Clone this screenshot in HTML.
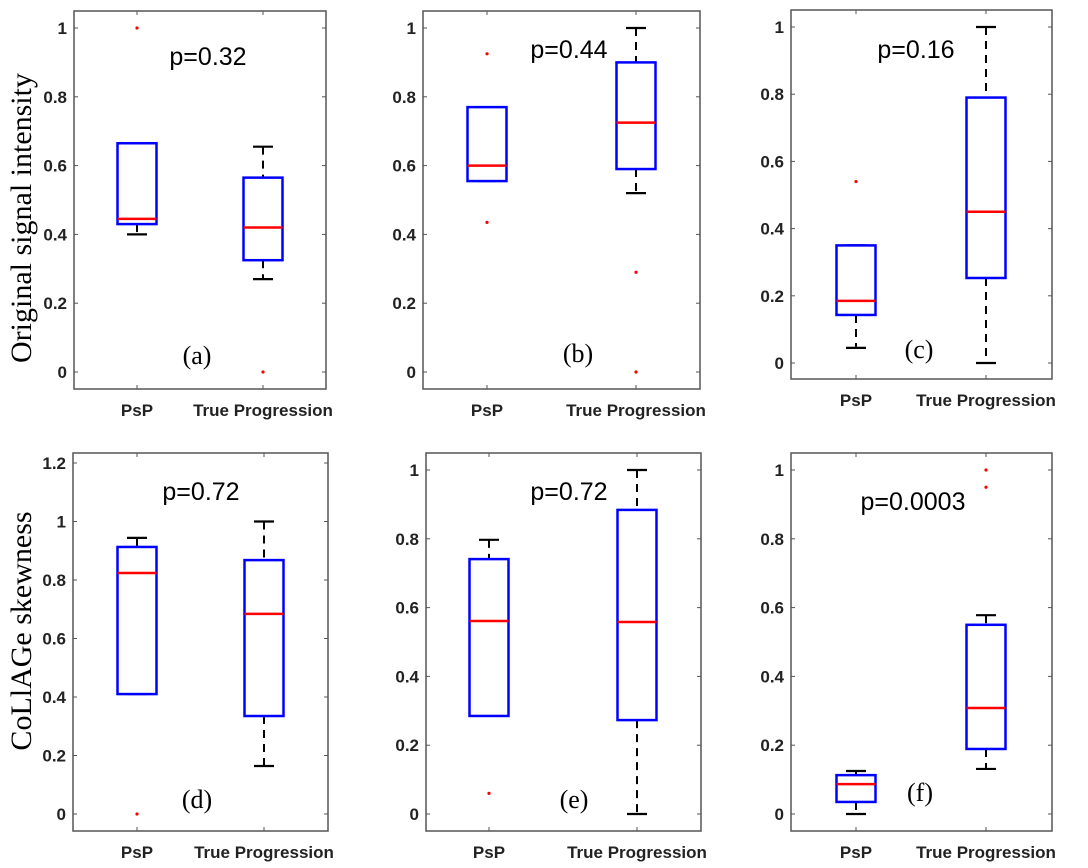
<!DOCTYPE html>
<html><head><meta charset="utf-8"><style>
body{margin:0;background:#fff;width:1088px;height:868px;overflow:hidden}
svg{display:block}
.tk{font-family:"Liberation Sans",sans-serif;font-weight:bold;font-size:17px;fill:#222}
.cat{font-family:"Liberation Sans",sans-serif;font-weight:bold;font-size:17px;fill:#222}
.pv{font-family:"Liberation Sans",sans-serif;font-size:25px;fill:#000}
.lt{font-family:"Liberation Serif",serif;font-size:26px;fill:#000}
.yt{font-family:"Liberation Serif",serif;font-size:30px;fill:#000}
</style></head><body>
<svg id="fig" width="1088" height="868" xmlns="http://www.w3.org/2000/svg">
<text class="yt" transform="translate(31,218) rotate(-90)" text-anchor="middle">Original signal intensity</text>
<text class="yt" transform="translate(31,631) rotate(-90)" text-anchor="middle">CoLlAGe skewness</text>
</svg>
<script>
const categories = ["PsP", "True Progression"];
const panelLabels = ["(a)", "(b)", "(c)", "(d)", "(e)", "(f)"];
const pValues = ["p=0.32", "p=0.44", "p=0.16", "p=0.72", "p=0.72", "p=0.0003"];
const yTicksTop = [0, 0.2, 0.4, 0.6, 0.8, 1];
const yTicksD = [0, 0.2, 0.4, 0.6, 0.8, 1, 1.2];
// [lowWhisker, q1, median, q3, highWhisker] per panel per category
const statsA = [[0.40, 0.43, 0.445, 0.665, 0.665], [0.27, 0.325, 0.42, 0.565, 0.655]];
const statsB = [[0.555, 0.555, 0.60, 0.77, 0.77], [0.52, 0.59, 0.725, 0.90, 1.0]];
const statsC = [[0.045, 0.143, 0.185, 0.35, 0.35], [0.0, 0.253, 0.45, 0.79, 1.0]];
const statsD = [[0.41, 0.41, 0.824, 0.913, 0.944], [0.164, 0.335, 0.684, 0.868, 1.0]];
const statsE = [[0.285, 0.285, 0.561, 0.741, 0.797], [0.0, 0.273, 0.558, 0.884, 1.0]];
const statsF = [[0.0, 0.035, 0.087, 0.113, 0.125], [0.131, 0.189, 0.308, 0.55, 0.578]];
const outliersA = [[1.0], [0.0]];
const outliersB = [[0.925, 0.435], [0.29, 0.0]];
const outliersC = [[0.54], []];
const outliersD = [[0.0], []];
const outliersE = [[0.06], []];
const outliersF = [[], [1.0, 0.95]];

const panels = [
 {st:statsA,out:outliersA,ticks:yTicksTop,L:74,R:326,T:11,B:389,y0:372,yv:1,yp:28,cx:[137,263],cy:416,p:[208,65],lb:[197,364]},
 {st:statsB,out:outliersB,ticks:yTicksTop,L:423,R:700,T:11,B:389,y0:372,yv:1,yp:28,cx:[487,636],cy:416,p:[569,58],lb:[578,362]},
 {st:statsC,out:outliersC,ticks:yTicksTop,L:791,R:1052,T:10,B:379,y0:363,yv:1,yp:27,cx:[856,986],cy:406,p:[916,58],lb:[919,358]},
 {st:statsD,out:outliersD,ticks:yTicksD,L:73,R:328,T:453,B:831,y0:814,yv:1.2,yp:463,cx:[137,264],cy:858,p:[201,500],lb:[197,808]},
 {st:statsE,out:outliersE,ticks:yTicksTop,L:426,R:701,T:453,B:831,y0:814,yv:1,yp:470,cx:[489,637],cy:858,p:[569,500],lb:[574,808]},
 {st:statsF,out:outliersF,ticks:yTicksTop,L:791,R:1052,T:453,B:831,y0:814,yv:1,yp:470,cx:[856,986],cy:858,p:[913,510],lb:[920,801]}
];
const NS="http://www.w3.org/2000/svg";
const svg=document.getElementById('fig');
function mk(tag,attrs,parent){const e=document.createElementNS(NS,tag);for(const k in attrs)e.setAttribute(k,attrs[k]);(parent||svg).appendChild(e);return e;}
panels.forEach((P,pi)=>{
 const g=mk('g',{});
 
 
 const y=v=>P.y0-(P.y0-P.yp)*v/P.yv;
 const fr=mk('rect',{x:P.L,y:P.T,width:P.R-P.L,height:P.B-P.T,fill:'none',stroke:'#555','stroke-width':1.5},g);
 
 
 P.ticks.forEach(t=>{
  const yy=y(t);
  mk('line',{x1:P.L,x2:P.L+4,y1:yy,y2:yy,stroke:'#555'},g);
  mk('line',{x1:P.R-4,x2:P.R,y1:yy,y2:yy,stroke:'#555'},g);
  const tx=mk('text',{x:P.L-7,y:yy+6,'text-anchor':'end',class:'tk'},g);
  tx.textContent=String(t);
  
  
 });
 categories.forEach((c,ci)=>{
  const cx=P.cx[ci];
  mk('line',{x1:cx,x2:cx,y1:P.T,y2:P.T+4,stroke:'#555'},g);
  mk('line',{x1:cx,x2:cx,y1:P.B-4,y2:P.B,stroke:'#555'},g);
  const ct=mk('text',{x:cx,y:P.cy,'text-anchor':'middle',class:'cat'},g);
  ct.textContent=c;
  
  
  const s=P.st[ci];const hw=19.5;
  const bg=mk('g',{},g);
  
  
  if(s[4]>s[3]){mk('line',{x1:cx,x2:cx,y1:y(s[4]),y2:y(s[3]),stroke:'#000','stroke-width':2,'stroke-dasharray':'8,6'},bg);}
  if(s[0]<s[1]){mk('line',{x1:cx,x2:cx,y1:y(s[1]),y2:y(s[0]),stroke:'#000','stroke-width':2,'stroke-dasharray':'8,6'},bg);}
  mk('line',{x1:cx-10,x2:cx+10,y1:y(s[4]),y2:y(s[4]),stroke:'#000','stroke-width':2.2},bg);
  mk('line',{x1:cx-10,x2:cx+10,y1:y(s[0]),y2:y(s[0]),stroke:'#000','stroke-width':2.2},bg);
  mk('rect',{x:cx-hw,y:y(s[3]),width:hw*2,height:y(s[1])-y(s[3]),fill:'#fff',stroke:'#0000ff','stroke-width':2.5},bg);
  mk('line',{x1:cx-hw,x2:cx+hw,y1:y(s[2]),y2:y(s[2]),stroke:'#ff0000','stroke-width':2.5},bg);
  P.out[ci].forEach(o=>{
   const d=mk('circle',{cx:cx,cy:y(o),r:1.6,fill:'#ff0000'},bg);
   
   
  });
 });
 const pt=mk('text',{x:P.p[0],y:P.p[1],'text-anchor':'middle',class:'pv'},g);
 pt.textContent=pValues[pi];
 
 
 const lt=mk('text',{x:P.lb[0],y:P.lb[1],'text-anchor':'middle',class:'lt'},g);
 lt.textContent=panelLabels[pi];
 
 
});
</script>
</body></html>
